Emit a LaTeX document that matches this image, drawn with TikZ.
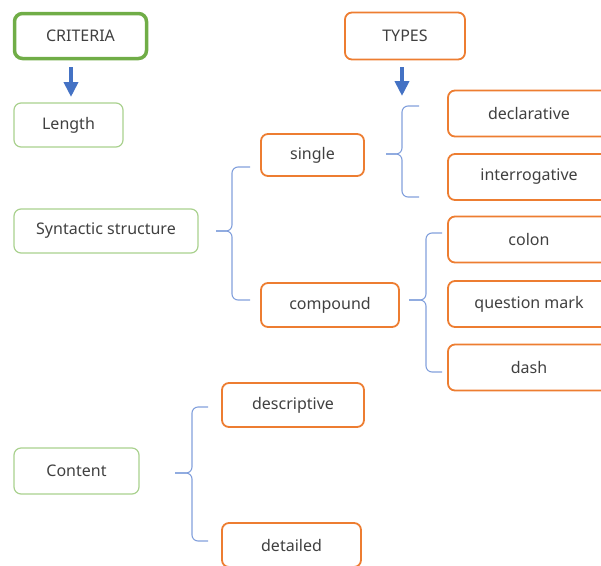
\documentclass[tikz,border=0pt]{standalone}
\usepackage{fontspec}
\setmainfont{Noto Sans}
\usetikzlibrary{arrows.meta}
\definecolor{critgreen}{RGB}{112,173,71}
\definecolor{leafgreen}{RGB}{169,209,142}
\definecolor{typeorange}{RGB}{237,125,49}
\definecolor{arrowblue}{RGB}{68,114,196}
\definecolor{braceblue}{RGB}{130,160,220}
\definecolor{txtgray}{RGB}{64,64,64}
\begin{document}
\begin{tikzpicture}[x=1pt, y=-1pt,
		head/.style={rectangle, rounded corners=8pt, draw=critgreen, line width=3.5pt, inner sep=0pt, text=txtgray, font=\fontsize{16}{19}\selectfont},
		crit/.style={rectangle, rounded corners=7pt, draw=leafgreen, line width=1.2pt, inner sep=0pt, text=txtgray, font=\fontsize{16}{19}\selectfont},
		kind/.style={rectangle, rounded corners=7pt, draw=typeorange, line width=1.8pt, inner sep=0pt, text=txtgray, font=\fontsize{16}{19}\selectfont},
		brace/.style={draw=braceblue, line width=1.1pt, rounded corners=6pt},
		down/.style={draw=arrowblue, line width=4.5pt, -{Triangle[length=15pt, width=14pt]}}]
		\clip (0,0) rectangle (601,565);
		% left column
		\node[head, minimum width=132pt, minimum height=45pt] (criteria) at (80.5,36) {CRITERIA};
		\node[crit, minimum width=109pt, minimum height=44pt] (length) at (68.5,125) {Length};
		\node[crit, minimum width=184pt, minimum height=44pt] (syntax) at (106,231) {Syntactic structure};
		\node[crit, minimum width=125pt, minimum height=46pt] (content) at (76.5,471) {Content};
		% types
		\node[kind, minimum width=120pt, minimum height=47pt] (types) at (405,36) {TYPES};
		\node[kind, minimum width=103pt, minimum height=42pt] (single) at (312.5,155) {single};
		\node[kind, minimum width=138pt, minimum height=44pt] (compound) at (330,305) {compound};
		\node[kind, minimum width=142pt, minimum height=44pt] (descr) at (293,405) {descriptive};
		\node[kind, minimum width=139pt, minimum height=44pt] (detail) at (291.5,545) {detailed};
		\node[kind, minimum width=162pt, minimum height=46pt] (decl) at (529,113.5) {declarative};
		\node[kind, minimum width=162pt, minimum height=46pt] (inter) at (529,177) {interrogative};
		\node[kind, minimum width=162pt, minimum height=46pt] (colon) at (529,239.5) {colon};
		\node[kind, minimum width=162pt, minimum height=46pt] (qmark) at (529,304) {question mark};
		\node[kind, minimum width=162pt, minimum height=46pt] (dash) at (529,367.5) {dash};
		
		\coordinate (c1) at (71,67);
		\coordinate (c2) at (71,97);
		\coordinate (t1) at (402,67);
		\coordinate (t2) at (402,96);
		\draw[down] (c1) -- (c2);
		\draw[down] (t1) -- (t2);
		
		% braces
		\coordinate (syntip) at (216,231);
		\coordinate (singletip) at (386,154);
		\coordinate (comptip) at (409,300);
		\coordinate (conttip) at (175,473);
		\draw[brace] (250,167) -- (232,167) -- (232,231) -- (syntip);
		\draw[brace] (250,300) -- (232,300) -- (232,231) -- (syntip);
		\draw[brace] (419,106) -- (402,106) -- (402,154) -- (singletip);
		\draw[brace] (419,197) -- (402,197) -- (402,154) -- (singletip);
		\draw[brace] (442,233) -- (426,233) -- (426,300) -- (comptip);
		\draw[brace] (442,372) -- (426,372) -- (426,300) -- (comptip);
		\draw[brace] (208,407) -- (192,407) -- (192,473) -- (conttip);
		\draw[brace] (208,541) -- (192,541) -- (192,473) -- (conttip);
		
	\end{tikzpicture}
\end{document}
